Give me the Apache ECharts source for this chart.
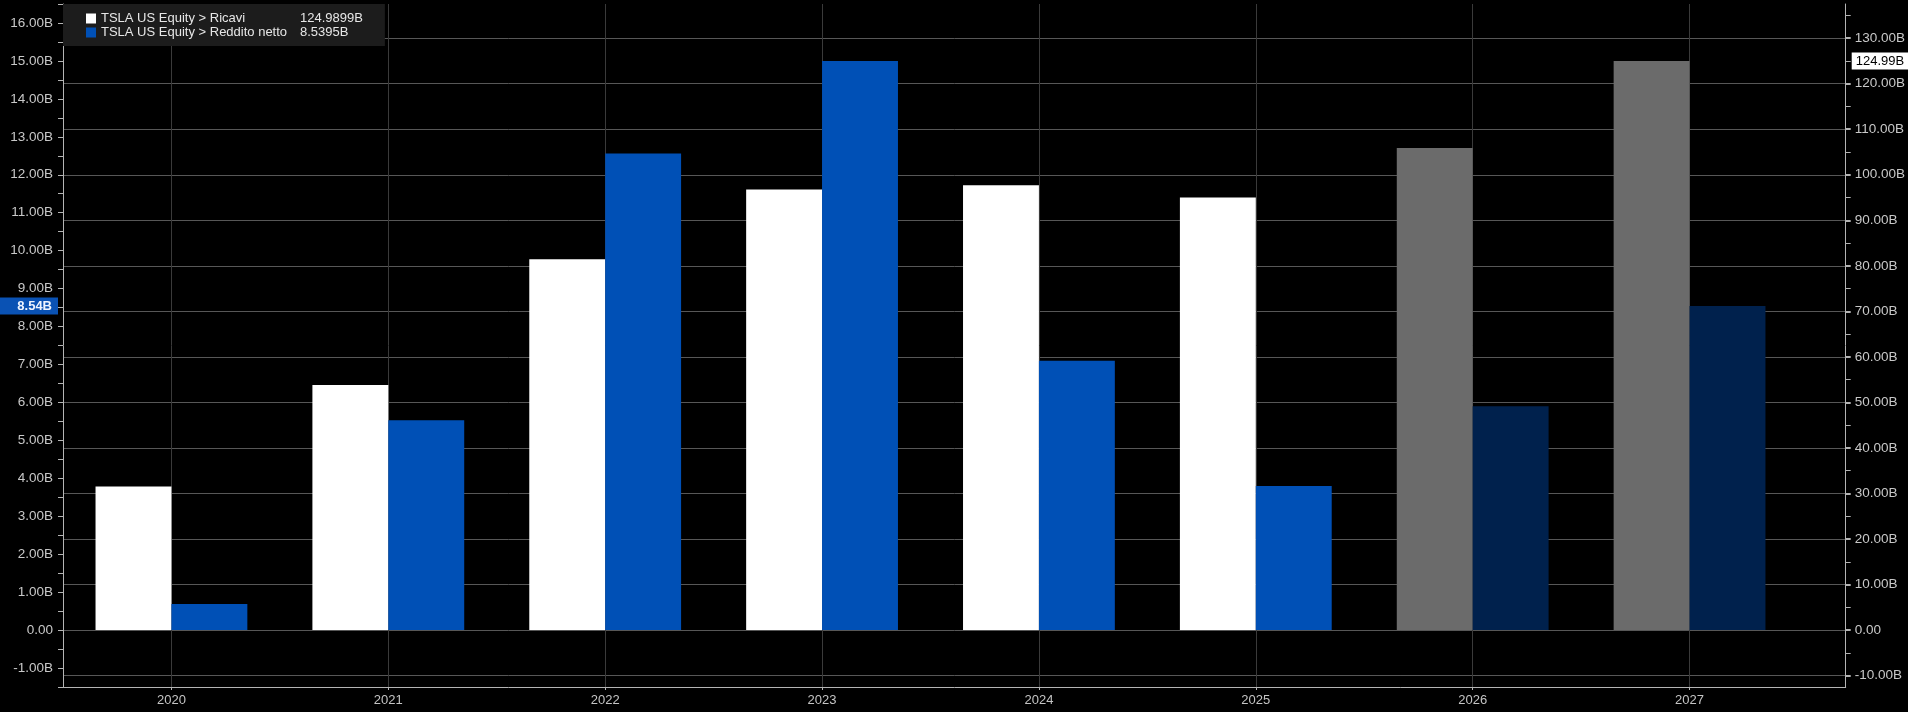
<!DOCTYPE html>
<html>
<head>
<meta charset="utf-8">
<title>TSLA US Equity - Ricavi / Reddito netto</title>
<script src="https://cdn.jsdelivr.net/npm/echarts@6/dist/echarts.min.js"></script>
<style>
  html, body { margin: 0; padding: 0; background: #000; }
  #chart { width: 1908px; height: 712px; }
</style>
</head>
<body>
<div id="chart"></div>
<script>
// dati (miliardi USD)
const years = [2020, 2021, 2022, 2023, 2024, 2025, 2026, 2027];
const estimateYears = [2026, 2027]; // stime, disegnate con colori spenti
const ricavi = [31.54, 53.82, 81.46, 96.77, 97.69, 95.0, 105.9, 124.9899];
const redditoNetto = [0.69, 5.53, 12.56, 15.0, 7.1, 3.8, 5.9, 8.5395];

const seriesNames = ['TSLA US Equity > Ricavi', 'TSLA US Equity > Reddito netto'];
const leftLabels = [-1, 0, 1, 2, 3, 4, 5, 6, 7, 8, 9, 10, 11, 12, 13, 14, 15, 16];
const rightLabels = [-10, 0, 10, 20, 30, 40, 50, 60, 70, 80, 90, 100, 110, 120, 130];
const rightMinor = [-5, 5, 15, 25, 35, 45, 55, 65, 75, 85, 95, 105, 115, 125, 135];

const FONT = '"Liberation Sans", Arial, sans-serif';
const fmtB = (v) => (v === 0 ? '0.00' : v.toFixed(2) + 'B');

const legendValues = {};
legendValues[seriesNames[0]] = ricavi[ricavi.length - 1].toFixed(4) + 'B';
legendValues[seriesNames[1]] = redditoNetto[redditoNetto.length - 1].toFixed(4) + 'B';

const toData = (vals, estColor) =>
  years.map((y, i) => {
    const item = { value: [y, vals[i]] };
    if (estimateYears.includes(y)) item.itemStyle = { color: estColor };
    return item;
  });

const chart = echarts.init(document.getElementById('chart'));

const option = {
  backgroundColor: '#000000',
  animation: false,
  textStyle: { fontFamily: FONT },
  grid: { left: 63, right: 62, top: 4, bottom: 25, containLabel: false },
  legend: {
    left: 63,
    top: 4,
    orient: 'vertical',
    backgroundColor: '#1c1c1c',
    padding: [8, 22, 7, 23],
    itemGap: 1,
    itemWidth: 10,
    itemHeight: 10,
    icon: 'rect',
    selectedMode: false,
    data: seriesNames,
    formatter: (name) => `{n|${name}}{v|${legendValues[name]}}`,
    textStyle: {
      color: '#e6e6e6',
      fontSize: 13,
      fontFamily: FONT,
      rich: {
        n: { width: 199, fontSize: 13, color: '#e6e6e6', fontFamily: FONT, lineHeight: 13 },
        v: { fontSize: 13, color: '#e6e6e6', fontFamily: FONT, lineHeight: 13 }
      }
    }
  },
  xAxis: {
    type: 'value',
    min: 2019.5,
    max: 2027.72,
    axisLine: { onZero: false, lineStyle: { color: '#b4b4b4', width: 1 } },
    axisTick: { customValues: years, length: 3, lineStyle: { color: '#b4b4b4' } },
    axisLabel: {
      customValues: years,
      formatter: (v) => String(v),
      color: '#c4c4c4',
      fontSize: 13,
      margin: 7
    },
    splitLine: { show: true, lineStyle: { color: '#3a3a3a', width: 1 } }
  },
  yAxis: [
    {
      // reddito netto
      type: 'value',
      position: 'left',
      min: -1.5,
      max: 16.5,
      interval: 0.5,
      axisLine: { show: true, onZero: false, lineStyle: { color: '#b4b4b4' } },
      axisTick: { show: true, length: 5, lineStyle: { color: '#b4b4b4' } },
      axisLabel: { customValues: leftLabels, formatter: fmtB, color: '#c8c8c8', fontSize: 13.5, margin: 10 },
      splitLine: { show: false }
    },
    {
      // ricavi
      type: 'value',
      position: 'right',
      min: -12.5,
      max: 137.5,
      axisLine: { show: true, onZero: false, lineStyle: { color: '#b4b4b4' } },
      axisTick: { show: true, customValues: rightLabels, length: 5, lineStyle: { color: '#b4b4b4', width: 2 } },
      axisLabel: { customValues: rightLabels, formatter: fmtB, color: '#c8c8c8', fontSize: 13.5, margin: 9 },
      splitLine: { show: true, lineStyle: { color: '#575757', width: 1 } }
    },
    {
      // tacche minori asse destro
      type: 'value',
      position: 'right',
      min: -12.5,
      max: 137.5,
      axisLine: { show: false, onZero: false },
      axisTick: { show: true, customValues: rightMinor, length: 5, lineStyle: { color: '#b4b4b4' } },
      axisLabel: { show: false },
      splitLine: { show: false }
    }
  ],
  series: [
    {
      name: seriesNames[0],
      type: 'bar',
      yAxisIndex: 1,
      barGap: '0%',
      barCategoryGap: '30%',
      itemStyle: { color: '#ffffff' },
      data: toData(ricavi, '#6b6b6b'),
      markLine: {
        silent: true,
        symbol: 'none',
        lineStyle: { color: 'transparent', width: 0 },
        data: [{ yAxis: ricavi[ricavi.length - 1] }],
        label: {
          show: true,
          position: 'end',
          distance: 6,
          formatter: (p) => Number(p.value).toFixed(2) + 'B',
          color: '#000000',
          backgroundColor: '#ffffff',
          fontSize: 13,
          fontFamily: FONT,
          padding: [2, 5, 2, 4]
        }
      }
    },
    {
      name: seriesNames[1],
      type: 'bar',
      yAxisIndex: 0,
      barGap: '0%',
      barCategoryGap: '30%',
      itemStyle: { color: '#0050b6' },
      data: toData(redditoNetto, '#00214d'),
      markLine: {
        silent: true,
        symbol: 'none',
        lineStyle: { color: 'transparent', width: 0 },
        data: [{ yAxis: redditoNetto[redditoNetto.length - 1] }],
        label: {
          show: true,
          position: 'start',
          distance: 5,
          formatter: (p) => Number(p.value).toFixed(2) + 'B',
          color: '#eef4ff',
          backgroundColor: '#0a52b4',
          fontSize: 13,
          fontWeight: 'bold',
          fontFamily: FONT,
          padding: [2, 6, 2, 18]
        }
      }
    }
  ]
};

chart.setOption(option);
</script>
</body>
</html>
